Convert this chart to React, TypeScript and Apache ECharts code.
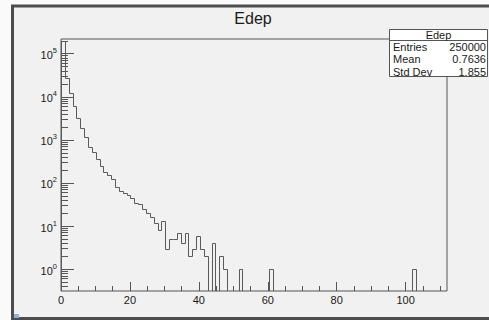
import React, { useEffect, useRef } from 'react';
import * as echarts from 'echarts';

// ---- data ----
const chartTitle = 'Edep';
const X_MIN = 0;
const X_MAX = 112;
const BIN_WIDTH = 1.12;
const Y_MIN = 0.31;
const Y_MAX = 2.2e5;

// 100 bins of width 1.12 over [0, 112]
const binCounts = [
  197000, 27000, 12000, 6200, 3200, 1900, 1150, 700, 515, 365,
  245, 183, 154, 122, 82, 64, 58, 52, 45, 34,
  32, 25, 20, 16, 12, 8, 13, 3, 5, 5,
  7, 4, 7, 2, 3, 6, 3, 2, 0, 4,
  0, 2, 1, 0, 0, 0, 1, 0, 0, 0,
  0, 0, 0, 0, 1, 0, 0, 0, 0, 0,
  0, 0, 0, 0, 0, 0, 0, 0, 0, 0,
  0, 0, 0, 0, 0, 0, 0, 0, 0, 0,
  0, 0, 0, 0, 0, 0, 0, 0, 0, 0,
  0, 1, 0, 0, 0, 0, 0, 0, 0, 0,
];

const xMajorTicks = [0, 20, 40, 60, 80, 100];
const xMinorTicks = [5, 10, 15, 25, 30, 35, 45, 50, 55, 65, 70, 75, 85, 90, 95, 105, 110];
const yDecades = [1, 10, 100, 1000, 10000, 100000];
const yMinorMultipliers = [2, 3, 4, 5, 6, 7, 8, 9];

const statsTitle = 'Edep';
const statsLabels = ['Entries', 'Mean', 'Std Dev'];
const statsValues = ['250000', '0.7636', '1.855'];

const FONT = '"Liberation Sans", Arial, Helvetica, sans-serif';
const AXIS_COLOR = '#555555';
const TEXT_COLOR = '#1a1a1a';

export default function App() {
  const ref = useRef<HTMLDivElement>(null);

  useEffect(() => {
    if (!ref.current) return;
    const chart = echarts.init(ref.current, undefined, { renderer: 'svg' });

    const yMinorTicks: number[] = [];
    [0.1, ...yDecades].forEach((d) => {
      yMinorMultipliers.forEach((m) => {
        const v = d * m;
        if (v > Y_MIN && v < Y_MAX) yMinorTicks.push(v);
      });
    });

    const histData = binCounts.map((c, i) => [
      X_MIN + i * BIN_WIDTH,
      X_MIN + (i + 1) * BIN_WIDTH,
      c,
      i > 0 ? binCounts[i - 1] : 0,
    ]);

    const snap = (p: number) => Math.round(p) + 0.5;

    const renderBin = (params: any, api: any) => {
      const x0 = api.value(0);
      const x1 = api.value(1);
      const v = api.value(2);
      const vp = api.value(3);
      const cs = params.coordSys;
      const bottom = cs.y + cs.height;
      const top = cs.y;
      const yOf = (val: number) => {
        if (!(val > 0)) return bottom;
        return Math.max(top, api.coord([x0, val])[1]);
      };
      const left = snap(api.coord([x0, 1])[0]);
      const right = snap(api.coord([x1, 1])[0]);
      const y = snap(yOf(v));
      const yp = snap(yOf(vp));
      const pts: number[][] = [[left, yp], [left, y], [right, y]];
      if (params.dataIndex === binCounts.length - 1) pts.push([right, snap(bottom)]);
      return {
        type: 'polyline',
        shape: { points: pts },
        style: { stroke: '#5a5a5a', fill: 'none', lineWidth: 1 },
      };
    };

    const boxX = 389.5;
    const boxY = 29.5;
    const boxW = 98;
    const boxH = 47;
    const rowYs = [47, 59.3, 71.5];
    const STATS_FS = 11;

    const graphics: any[] = [
      { type: 'rect', shape: { x: 0, y: 0, width: 11, height: 320 }, style: { fill: '#fafafa' }, silent: true },
      { type: 'rect', shape: { x: 0, y: 0, width: 489, height: 5 }, style: { fill: '#fafafa' }, silent: true },
      {
        type: 'rect',
        shape: { x: 12.5, y: 6, width: 490, height: 312.5 },
        style: { fill: 'none', stroke: '#4d4d4d', lineWidth: 3 },
        silent: true,
      },
      { type: 'rect', shape: { x: 14, y: 314, width: 5, height: 4 }, style: { fill: '#8fb0dc' }, silent: true },
      {
        type: 'text',
        x: 253,
        y: 18.5,
        style: {
          text: chartTitle,
          fontSize: 16,
          fontFamily: FONT,
          fill: TEXT_COLOR,
          textAlign: 'center',
          textVerticalAlign: 'middle',
        },
      },
      {
        type: 'rect',
        shape: { x: boxX, y: boxY, width: boxW, height: boxH },
        style: { fill: '#ffffff', stroke: '#555555', lineWidth: 1 },
        z: 10,
      },
      {
        type: 'line',
        shape: { x1: boxX, y1: 40.5, x2: boxX + boxW, y2: 40.5 },
        style: { stroke: '#555555', lineWidth: 1 },
        z: 11,
      },
      {
        type: 'text',
        x: boxX + boxW / 2,
        y: 35.3,
        z: 11,
        style: {
          text: statsTitle,
          fontSize: STATS_FS,
          fontFamily: FONT,
          fill: TEXT_COLOR,
          textAlign: 'center',
          textVerticalAlign: 'middle',
        },
      },
    ];
    statsLabels.forEach((lab, i) => {
      graphics.push({
        type: 'text',
        x: 393,
        y: rowYs[i],
        z: 11,
        style: { text: lab, fontSize: STATS_FS, fontFamily: FONT, fill: TEXT_COLOR, textAlign: 'left', textVerticalAlign: 'middle' },
      });
      graphics.push({
        type: 'text',
        x: 486,
        y: rowYs[i],
        z: 11,
        style: { text: statsValues[i], fontSize: STATS_FS, fontFamily: FONT, fill: TEXT_COLOR, textAlign: 'right', textVerticalAlign: 'middle' },
      });
    });

    chart.setOption({
      animation: false,
      backgroundColor: '#f1f1f1',
      grid: {
        left: 61,
        right: 42,
        top: 39,
        bottom: 29,
        show: true,
        borderColor: AXIS_COLOR,
        borderWidth: 1,
        backgroundColor: 'transparent',
        containLabel: false,
      },
      xAxis: [
        {
          type: 'value',
          position: 'bottom',
          min: X_MIN,
          max: X_MAX,
          axisLine: { show: false },
          splitLine: { show: false },
          minorTick: { show: false },
          axisTick: { show: true, inside: true, length: 9, customValues: xMajorTicks, lineStyle: { color: AXIS_COLOR } },
          axisLabel: { customValues: xMajorTicks, fontSize: 11, fontFamily: FONT, color: TEXT_COLOR, margin: 3 },
        },
        {
          type: 'value',
          position: 'bottom',
          min: X_MIN,
          max: X_MAX,
          axisLine: { show: false },
          splitLine: { show: false },
          minorTick: { show: false },
          axisTick: { show: true, inside: true, length: 5, customValues: xMinorTicks, lineStyle: { color: AXIS_COLOR } },
          axisLabel: { show: false },
        },
      ],
      yAxis: [
        {
          type: 'log',
          logBase: 10,
          position: 'left',
          min: Y_MIN,
          max: Y_MAX,
          axisLine: { show: false },
          splitLine: { show: false },
          minorTick: { show: false },
          axisTick: { show: true, inside: true, length: 13, customValues: yDecades, lineStyle: { color: AXIS_COLOR } },
          axisLabel: {
            customValues: yDecades,
            margin: 4,
            formatter: (val: number) => `{b|10}{s|${Math.round(Math.log10(val))}}`,
            rich: {
              b: { fontSize: 11, fontFamily: FONT, color: TEXT_COLOR, lineHeight: 14, verticalAlign: 'bottom' },
              s: { fontSize: 7.5, fontFamily: FONT, color: TEXT_COLOR, lineHeight: 9, verticalAlign: 'top' },
            },
          },
        },
        {
          type: 'log',
          logBase: 10,
          position: 'left',
          min: Y_MIN,
          max: Y_MAX,
          axisLine: { show: false },
          splitLine: { show: false },
          minorTick: { show: false },
          axisTick: { show: true, inside: true, length: 7, customValues: yMinorTicks, lineStyle: { color: AXIS_COLOR } },
          axisLabel: { show: false },
        },
      ],
      series: [
        {
          type: 'custom',
          name: 'Edep',
          xAxisIndex: 0,
          yAxisIndex: 0,
          renderItem: renderBin,
          encode: { x: [0, 1], y: 2 },
          data: histData,
          clip: true,
          z: 5,
        },
      ],
      graphic: graphics,
    });

    return () => chart.dispose();
  }, []);

  return (
    <div
      ref={ref}
      style={{ position: 'fixed', left: 0, top: 0, width: 489, height: 320 }}
    />
  );
}
